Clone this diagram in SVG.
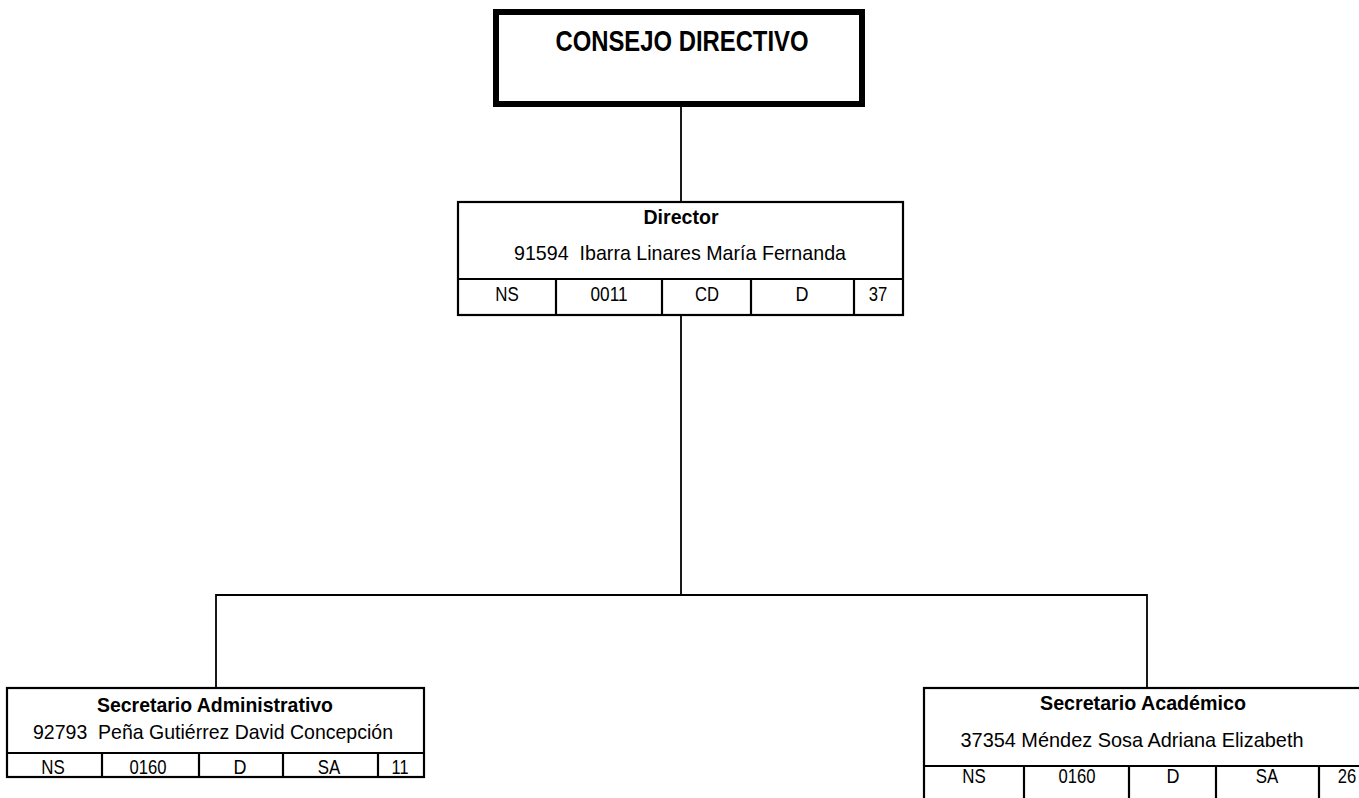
<svg xmlns="http://www.w3.org/2000/svg" width="1359" height="798" viewBox="0 0 1359 798">
<style>
  .bg { fill: #ffffff; }
  .box { fill: #ffffff; stroke: #000000; stroke-width: 2.2; }
  .thick { fill: #ffffff; stroke: #000000; stroke-width: 6; }
  .div { stroke: #000000; stroke-width: 2.2; fill: none; }
  .conn { stroke: #000000; stroke-width: 1.8; fill: none; }
  text { font-family: "Liberation Sans", Arial, sans-serif; fill: #000000; text-anchor: middle; }
  .title { font-size: 30px; font-weight: bold; }
  .head { font-size: 21px; font-weight: bold; }
  .name { font-size: 21px; }
  .cell { font-size: 21px; }
</style>
<rect class="bg" x="0" y="0" width="1359" height="798"/>

<g id="connectors">
  <line class="conn" x1="681" y1="107" x2="681" y2="201"/>
  <line class="conn" x1="681" y1="315" x2="681" y2="595"/>
  <polyline class="conn" points="216,687 216,595 1147,595 1147,688"/>
</g>

<g id="consejo">
  <rect class="thick" x="496" y="12" width="366" height="92"/>
  <text class="title" x="682" y="51" textLength="253" lengthAdjust="spacingAndGlyphs">CONSEJO DIRECTIVO</text>
</g>

<g id="director">
  <rect class="box" x="458" y="202" width="445" height="113"/>
  <line class="div" x1="458" y1="279" x2="903" y2="279"/>
  <line class="div" x1="556" y1="279" x2="556" y2="315"/>
  <line class="div" x1="662" y1="279" x2="662" y2="315"/>
  <line class="div" x1="751" y1="279" x2="751" y2="315"/>
  <line class="div" x1="854" y1="279" x2="854" y2="315"/>
  <text class="head" x="681" y="224" textLength="75" lengthAdjust="spacingAndGlyphs">Director</text>
  <text class="name" x="680" y="260" textLength="332" lengthAdjust="spacingAndGlyphs" xml:space="preserve">91594  Ibarra Linares María Fernanda</text>
  <text class="cell" x="507" y="301" textLength="23.5" lengthAdjust="spacingAndGlyphs">NS</text>
  <text class="cell" x="609" y="301" textLength="37" lengthAdjust="spacingAndGlyphs">0011</text>
  <text class="cell" x="707" y="301" textLength="24" lengthAdjust="spacingAndGlyphs">CD</text>
  <text class="cell" x="802" y="301" textLength="13" lengthAdjust="spacingAndGlyphs">D</text>
  <text class="cell" x="878" y="301" textLength="18.5" lengthAdjust="spacingAndGlyphs">37</text>
</g>

<g id="sec-admin">
  <rect class="box" x="7" y="688" width="417" height="89"/>
  <line class="div" x1="7" y1="753" x2="424" y2="753"/>
  <line class="div" x1="102" y1="753" x2="102" y2="777"/>
  <line class="div" x1="199" y1="753" x2="199" y2="777"/>
  <line class="div" x1="283" y1="753" x2="283" y2="777"/>
  <line class="div" x1="378" y1="753" x2="378" y2="777"/>
  <text class="head" x="215" y="712" textLength="236" lengthAdjust="spacingAndGlyphs">Secretario Administrativo</text>
  <text class="name" x="213" y="739" textLength="360" lengthAdjust="spacingAndGlyphs" xml:space="preserve">92793  Peña Gutiérrez David Concepción</text>
  <text class="cell" x="53" y="774" textLength="23.5" lengthAdjust="spacingAndGlyphs">NS</text>
  <text class="cell" x="148" y="774" textLength="37" lengthAdjust="spacingAndGlyphs">0160</text>
  <text class="cell" x="240" y="774" textLength="13" lengthAdjust="spacingAndGlyphs">D</text>
  <text class="cell" x="329" y="774" textLength="22.5" lengthAdjust="spacingAndGlyphs">SA</text>
  <text class="cell" x="400" y="774" textLength="17" lengthAdjust="spacingAndGlyphs">11</text>
</g>

<g id="sec-academico">
  <rect class="box" x="924" y="688" width="460" height="130"/>
  <line class="div" x1="924" y1="766" x2="1384" y2="766"/>
  <line class="div" x1="1024" y1="766" x2="1024" y2="798"/>
  <line class="div" x1="1129" y1="766" x2="1129" y2="798"/>
  <line class="div" x1="1216" y1="766" x2="1216" y2="798"/>
  <line class="div" x1="1319" y1="766" x2="1319" y2="798"/>
  <text class="head" x="1143" y="710" textLength="206" lengthAdjust="spacingAndGlyphs">Secretario Académico</text>
  <text class="name" x="1132" y="747" textLength="343" lengthAdjust="spacingAndGlyphs">37354 Méndez Sosa Adriana Elizabeth</text>
  <text class="cell" x="974" y="783" textLength="23.5" lengthAdjust="spacingAndGlyphs">NS</text>
  <text class="cell" x="1077" y="783" textLength="37" lengthAdjust="spacingAndGlyphs">0160</text>
  <text class="cell" x="1173" y="783" textLength="13" lengthAdjust="spacingAndGlyphs">D</text>
  <text class="cell" x="1267" y="783" textLength="22.5" lengthAdjust="spacingAndGlyphs">SA</text>
  <text class="cell" x="1347" y="783" textLength="18.5" lengthAdjust="spacingAndGlyphs">26</text>
</g>
</svg>
